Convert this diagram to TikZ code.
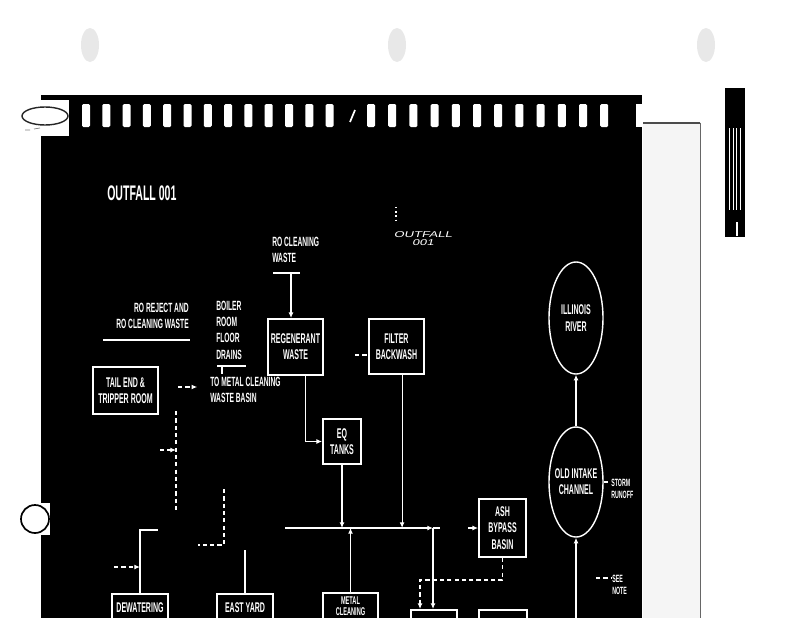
\documentclass[tikz,border=0pt]{standalone}
\usepackage{fontspec}
\setmainfont{Liberation Sans}
\newfontfamily\cnd[FakeStretch=0.5]{Liberation Sans}
\newfontfamily\wde[FakeStretch=1.55, FakeSlant=0.25]{Liberation Sans}
\usepackage{tikz}
\usetikzlibrary{positioning, arrows.meta, shapes.geometric}

\begin{document}
\begin{tikzpicture}[
  x = 0.025cm, y = -0.025cm,
  unit/.style = {draw=white, line width=1.3pt, text=white, align=center, inner sep=0pt, font=\cnd\bfseries\fontsize{10}{11.5}\selectfont},
  pond/.style = {unit, ellipse, line width=1pt, inner xsep=-0.1cm, minimum width=1.35cm},
  sump/.style = {unit, anchor=north, minimum height=1.2cm},
  tag/.style = {text=white, inner sep=0pt, align=center, font=\cnd\bfseries\fontsize{10}{11.5}\selectfont},
  note/.style = {text=white, inner sep=0pt, font=\cnd\bfseries\fontsize{9.5}{11.5}\selectfont},
  flow/.style = {white, line width=0.8pt, -{Latex[length=4pt, width=3.5pt]}},
  pipe/.style = {white, line width=0.8pt},
  dflow/.style = {flow, dash pattern=on 3pt off 2.2pt},
  dpipe/.style = {pipe, dash pattern=on 3pt off 2.2pt},
]
\useasboundingbox (0,0) rectangle (800,618);
\fill[white] (0,0) rectangle (800,618);
\foreach \hx in {90,397,706} \fill[black!9] (\hx,45) ellipse [x radius=9, y radius=17];
\fill[black] (41,95) rectangle (642,618);
\fill[black!4] (643,122) rectangle (701,618);
\draw[black!70, line width=1pt] (643,123) -- (700,123);
\draw[black!60, line width=0.6pt] (700,123) -- (700,618);
\fill[black] (725,88) rectangle (745,237);
\foreach \sx in {729.5,733,736.5,740.5} \draw[white, line width=0.5pt] (\sx,128) -- (\sx,210);
\draw[white, line width=0.8pt] (737,222) -- (737,236);
\fill[white] (40,100) rectangle (69,136);
\draw[black!85, line width=1pt] (45,116) ellipse [x radius=23, y radius=9];
\draw[black!50, line width=0.5pt] (25,130) -- (30,130) (34,129) -- (40,128);
\fill[white] (41,503) rectangle (50,535);
\draw[black, line width=1.2pt] (35,519) circle [radius=14];
\foreach \k in {0,...,12} \fill[white, rounded corners=1pt] ({82+20.3*\k},104) rectangle ++(8,23);
\foreach \k in {0,...,11} \fill[white, rounded corners=1pt] ({367+21.2*\k},104) rectangle ++(8,23);
\fill[white] (636,104) rectangle (642,127);
\draw[white, line width=1.2pt] (350,122) -- (355,110);

\node[note, anchor=west, font=\cnd\bfseries\fontsize{15}{16}\selectfont] (title) at (107,193) {OUTFALL 001};
\node[text=white, inner sep=0pt, align=center, font=\wde\fontsize{6}{5.7}\selectfont] (o1) at (423,239) {OUTFALL\\001};
\coordinate (d1) at (396,207); \coordinate (d2) at (396,221);
\draw[white, line width=1pt, dotted] (d1) -- (d2);

\node[note, anchor=west, align=left] (rocw) at (272,250) {RO CLEANING\\WASTE};
\node[note, anchor=east, align=right] (rorej) at (189,316) {RO REJECT AND\\RO CLEANING WASTE};
\node[note, anchor=north west, align=left] (boiler) at (216,301) {BOILER\\ROOM\\FLOOR\\DRAINS};
\node[note, anchor=west, align=left] (tomcw) at (210,390) {TO METAL CLEANING\\WASTE BASIN};

\node[unit, minimum width=1.625cm, minimum height=1.175cm] (te) at (125.5,390.5) {TAIL END \&\\TRIPPER ROOM};
\node[unit, minimum width=1.375cm, minimum height=1.4cm] (rg) at (295.5,347) {REGENERANT\\WASTE};
\node[unit, minimum width=1.375cm, minimum height=1.375cm] (fb) at (396.5,346.5) {FILTER\\BACKWASH};
\node[unit, minimum width=0.95cm, minimum height=1.125cm] (eq) at (342,441.5) {EQ\\TANKS};
\node[unit, minimum width=1.175cm, minimum height=1.45cm] (ab) at (502.5,528) {ASH\\BYPASS\\BASIN};
\node[pond, minimum height=2.8cm] (ir) at (576,318) {ILLINOIS\\RIVER};
\node[pond, minimum height=2.75cm] (oc) at (576,482) {OLD INTAKE\\CHANNEL};
\node[note, anchor=west, align=left, font=\cnd\bfseries\fontsize{7.5}{9}\selectfont] (sr) at (611,489) {STORM\\RUNOFF};
\node[note, anchor=west, align=left, font=\cnd\bfseries\fontsize{7.5}{9}\selectfont] (sn) at (612,585) {SEE\\NOTE};

\node[sump, minimum width=1.4cm] (dw) at (140,593) {};
\node[tag, anchor=north] (dwt) at (140,602) {DEWATERING};
\node[sump, minimum width=1.4cm] (ey) at (245,593) {};
\node[tag, anchor=north] (eyt) at (245,602) {EAST YARD};
\node[sump, minimum width=1.375cm] (mc) at (350.5,592) {};
\node[tag, anchor=north, font=\cnd\bfseries\fontsize{8}{8.5}\selectfont] (mct) at (350.5,596) {METAL\\CLEANING};
\node[sump, minimum width=1.15cm] (b1) at (434,609) {};
\node[sump, minimum width=1.2cm] (b2) at (503,609) {};

\coordinate (rb1) at (273,273); \coordinate (rb2) at (300,273); \coordinate (rbx) at (291,273);
\draw[pipe, line width=1.4pt] (rb1) -- (rb2);
\draw[flow] (rbx) -- (rbx |- rg.north);
\coordinate (rr1) at (103,340); \coordinate (rr2) at (190,340);
\draw[pipe, line width=1.2pt] (rr1) -- (rr2);
\coordinate (bl1) at (217,366); \coordinate (bl2) at (246,366); \coordinate (bl3) at (222,374);
\draw[pipe, line width=1.2pt] (bl1) -- (bl2);
\draw[pipe] (bl3 |- bl1) -- (bl3);
\coordinate (fd) at (355,355);
\draw[dpipe] (fd) -- (fd -| fb.west);
\coordinate (ta) at (178,387);
\draw[dflow, shorten >=0.32cm] (ta) -- (ta -| tomcw.west);
\coordinate (v1) at (176,411); \coordinate (v2) at (176,513); \coordinate (va) at (160,450);
\draw[dpipe] (v1) -- (v2);
\draw[dflow] (va) -- (va -| v1);
\coordinate (de) at (158,530); \coordinate (da) at (114,567);
\draw[pipe] (dw.north) |- (de);
\draw[dflow] (da) -- (da -| dw.north);
\coordinate (ee) at (245,550);
\draw[pipe] (ey.north) -- (ee);
\coordinate (y1) at (224,489); \coordinate (y2) at (224,545); \coordinate (y3) at (198,545);
\draw[dpipe] (y1) -- (y2) -- (y3);

\coordinate (hl) at (285,528); \coordinate (hj) at (433,528); \coordinate (hr) at (440,528);
\draw[flow] (hl) -- (hj);
\draw[pipe] (hj) -- (hr);
\draw[flow] ([xshift=0.24cm]rg.south) |- (eq.west);
\draw[flow] (eq.south) -- (eq.south |- hl);
\draw[flow] ([xshift=0.14cm]fb.south) -- ([xshift=0.14cm]fb.south |- hl);
\draw[flow] (mc.north) -- (mc.north |- hl);
\draw[flow] (hj) -- (hj |- b1.north);
\coordinate (ai) at (468,528);
\draw[flow] (ai) -- (ab.west);
\coordinate (ad) at (420,580);
\draw[dflow] (ab.south) |- (ad) -- (ad |- b1.north);

\draw[flow] (oc.north) -- (ir.south);
\coordinate (ri) at (576,620);
\draw[flow] (ri) -- (oc.south);
\draw[dpipe] (oc.east) -- (sr.west |- oc.east);
\coordinate (nk) at (596,578);
\draw[dpipe] (nk) -- (nk -| sn.west);
\end{tikzpicture}
\end{document}
